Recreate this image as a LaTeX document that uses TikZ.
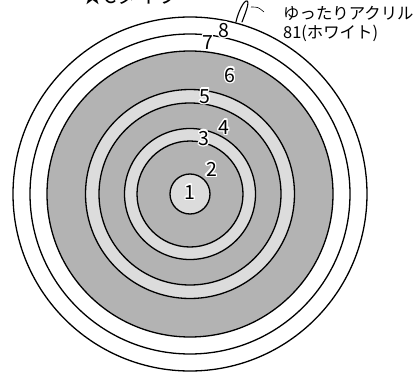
\documentclass[tikz,border=0pt]{standalone}
\usepackage{fontspec}
\setmainfont{Noto Sans CJK JP}
\usepackage{contour}
\usetikzlibrary{positioning}
\definecolor{ringdark}{HTML}{B3B3B3}
\definecolor{ringlight}{HTML}{DCDCDC}
\tikzset{
  ringline/.style={draw=black, line width=1.3pt},
  numlabel/.style={inner sep=0pt, font=\fontsize{19.5}{19.5}\selectfont},
  notetext/.style={inner sep=0pt, anchor=west, font=\fontsize{16.4}{20}\selectfont},
  yarn/.style={line width=1.1pt, line cap=round},
}
\contourlength{1.4pt}
\begin{document}
\begin{tikzpicture}[x=1pt, y=-1pt]
  \useasboundingbox (0,0) rectangle (416,372);
  \coordinate (c) at (190,194);

  % rings, outside in
  \filldraw[ringline, fill=white]      (c) circle[radius=177pt];
  \filldraw[ringline, fill=white]      (c) circle[radius=160pt];
  \filldraw[ringline, fill=ringdark]   (c) circle[radius=143pt];
  \filldraw[ringline, fill=ringlight]  (c) circle[radius=104.5pt];
  \filldraw[ringline, fill=ringdark]   (c) circle[radius=91pt];
  \filldraw[ringline, fill=ringlight]  (c) circle[radius=65.5pt];
  \filldraw[ringline, fill=ringdark]   (c) circle[radius=53pt];
  \filldraw[ringline, fill=ringlight]  (c) circle[radius=20pt];

  % round numbers
  \foreach \n/\x/\y in {1/190/193, 2/211.5/170, 3/204/139, 4/224/128,
                        5/205/97, 6/230/76, 7/208/43, 8/224/31}
    \node[numlabel] (r\n) at (\x,\y) {\contour{white}{\n}};

  % title, cut by the top edge
  \node[inner sep=0pt, anchor=base west, font=\fontsize{21}{21}\selectfont] (title) at (82,3.5) {★Cタイプ};

  % yarn note
  \node[notetext] (note1) at (283,13) {ゆったりアクリル};
  \node[notetext] (note2) at (283,33) {81(ホワイト)};
  \draw[yarn] (236,22) .. controls (238,12) and (244,0) .. (247,1)
              .. controls (250,2) and (245,14) .. (242,22);
  \coordinate (lead) at (264,12);
  \coordinate (tip) at (251,7);
  \draw[line width=0.6pt] (lead) .. controls (258,7) .. (tip);
\end{tikzpicture}
\end{document}
